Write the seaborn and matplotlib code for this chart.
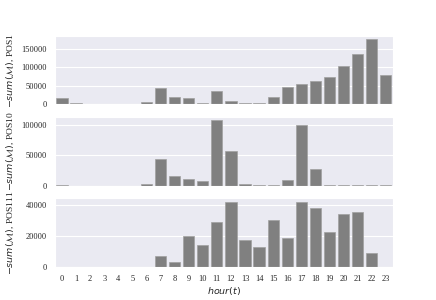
import numpy as np
import matplotlib
matplotlib.use("Agg")
import matplotlib.pyplot as plt
import seaborn as sns
import pandas as pd

# ── Data ──────────────────────────────────────
hours = list(range(24))
pos1 = [16400, 4500, 1800, 500, 300, 200, 6400, 43600, 20900, 17300, 2700, 37300,
        9100, 2700, 2700, 19100, 47300, 54500, 62700, 73600, 102700, 135400, 177300, 80900]
pos10 = [300, 200, 200, 200, 200, 200, 2200, 43900, 15900, 11500, 7700, 107000,
         57100, 2700, 300, 300, 9300, 99900, 26900, 300, 300, 300, 300, 300]
pos111 = [100, 100, 100, 100, 100, 100, 100, 7100, 3000, 20000, 14000, 28800,
          41500, 17200, 12900, 30100, 18500, 41900, 37800, 22400, 33800, 35500, 8800, 0]
series = [("POS1", pos1), ("POS10", pos10), ("POS111", pos111)]

# ── Style ──────────────────────────────────────
sns.set_style("darkgrid")
plt.rcParams["font.family"] = ["Liberation Serif", "DejaVu Serif"]
plt.rcParams.update({
    "xtick.labelsize": 6,
    "ytick.labelsize": 6,
    "axes.labelsize": 6.8,
    "mathtext.fontset": "dejavusans",
})

fig, axes = plt.subplots(3, 1, figsize=(4.36, 3.0), dpi=100, sharex=True)
fig.subplots_adjust(left=0.126, right=0.901, top=0.881, bottom=0.11, hspace=0.185)

for ax, (name, vals) in zip(axes, series):
    df = pd.DataFrame({"hour": hours, "val": vals})
    sns.barplot(data=df, x="hour", y="val", color="gray", saturation=1,
                edgecolor="#a0a0a0", linewidth=0.5, ax=ax)
    ax.set_ylabel(r"$-sum(\mathcal{M})$, " + name)
    ax.set_xlabel("")
    ax.tick_params(axis="both", pad=2.5)

axes[-1].set_xlabel(r"$hour(t)$", labelpad=1)
fig.align_ylabels(axes)

plt.savefig("out.png", dpi=100)
plt.close()
